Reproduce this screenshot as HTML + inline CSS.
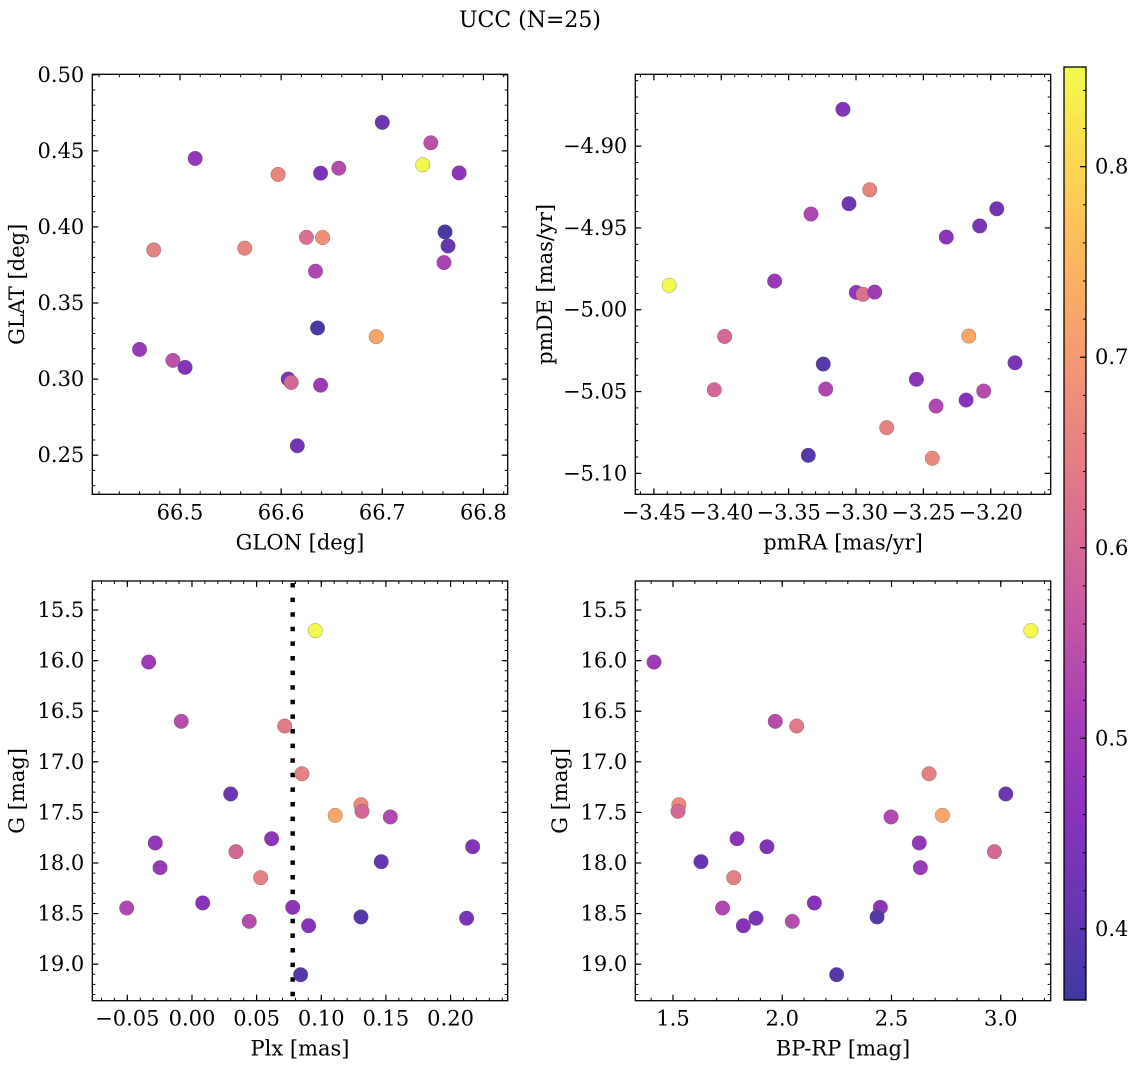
<!DOCTYPE html>
<html>
<head>
<meta charset="utf-8">
<style>
  html,body{margin:0;padding:0;background:#fff;}
  svg{display:block;}
  text{font-family:"DejaVu Serif","Liberation Serif",serif;fill:#000;}
</style>
</head>
<body>
<svg id="fig" width="1136" height="1067" viewBox="0 0 1136 1067" xmlns="http://www.w3.org/2000/svg">
  <rect x="0" y="0" width="1136" height="1067" fill="#fff"/>
  <text x="530" y="27" font-size="22" text-anchor="middle">UCC (N=25)</text>
</svg>
<script>
// ---- data ----
const glon = [66.700,66.748,66.740,66.776,66.515,66.597,66.639,66.657,66.762,66.765,66.761,66.625,66.641,66.474,66.564,66.634,66.636,66.694,66.460,66.493,66.505,66.607,66.610,66.639,66.616];
const glat = [0.4687,0.4553,0.4408,0.4355,0.4450,0.4345,0.4353,0.4386,0.3967,0.3875,0.3766,0.3932,0.3930,0.3849,0.3860,0.3709,0.3336,0.3279,0.3195,0.3123,0.3077,0.3000,0.2978,0.2960,0.2562];
const colGal = [0.42,0.55,0.85,0.47,0.48,0.66,0.44,0.54,0.38,0.41,0.52,0.62,0.68,0.65,0.66,0.53,0.38,0.72,0.49,0.55,0.45,0.44,0.60,0.50,0.43];

const pmra = [-3.3097,-3.2898,-3.3052,-3.3334,-3.1955,-3.2082,-3.2330,-3.4386,-3.3604,-3.2998,-3.2948,-3.2861,-3.3975,-3.2163,-3.3243,-3.1820,-3.2552,-3.4052,-3.3225,-3.2052,-3.2183,-3.2406,-3.2772,-3.3354,-3.2434];
const pmde = [-4.8775,-4.9267,-4.9352,-4.9415,-4.9383,-4.9488,-4.9556,-4.9851,-4.9825,-4.9894,-4.9906,-4.9892,-5.0163,-5.0161,-5.0332,-5.0324,-5.0425,-5.0489,-5.0485,-5.0497,-5.0552,-5.0589,-5.0721,-5.0890,-5.0908];
const colPm = [0.45,0.66,0.42,0.53,0.43,0.44,0.47,0.85,0.49,0.48,0.62,0.50,0.60,0.72,0.39,0.44,0.47,0.60,0.53,0.54,0.46,0.53,0.65,0.39,0.67];

const plx  = [0.0954,-0.0335,-0.0083,0.0717,0.0850,0.0299,0.1307,0.1315,0.1108,0.1534,0.0616,-0.0284,0.2171,0.0340,-0.0247,0.1464,0.0531,0.0083,-0.0505,0.0779,0.0443,0.1307,0.2124,0.0902,0.0840];
const gmag = [15.704,16.014,16.600,16.646,17.118,17.318,17.424,17.489,17.529,17.545,17.760,17.802,17.839,17.888,18.046,17.987,18.145,18.395,18.445,18.438,18.577,18.533,18.546,18.620,19.104];
const bprp = [3.138,1.413,1.968,2.066,2.672,3.023,1.527,1.523,2.733,2.498,1.793,2.627,1.930,2.971,2.632,1.628,1.778,2.147,1.727,2.449,2.046,2.434,1.880,1.822,2.249];
const colPhot = [0.85,0.50,0.54,0.64,0.65,0.42,0.67,0.60,0.72,0.53,0.47,0.48,0.45,0.60,0.49,0.41,0.65,0.46,0.53,0.47,0.54,0.39,0.44,0.46,0.39];

const plxLine = [0.0779];
const cbarTicks = [0.4,0.5,0.6,0.7,0.8];
const cbarRange = [0.3627,0.8523];

// ---- helpers ----
const NS = "http://www.w3.org/2000/svg";
const svg = document.getElementById('fig');
const FS = 21;
function mk(tag, attrs, parent){
  const e = document.createElementNS(NS, tag);
  for (const k in attrs) e.setAttribute(k, attrs[k]);
  (parent||svg).appendChild(e);
  return e;
}
const plasmaStops = ["#0d0887","#41049d","#6a00a8","#8f0da4","#b12a90","#cc4778","#e16462","#f2844b","#fca636","#fcce25","#f0f921"];
function hex2rgb(h){return [parseInt(h.substr(1,2),16),parseInt(h.substr(3,2),16),parseInt(h.substr(5,2),16)];}
function plasma(t){
  t=Math.max(0,Math.min(1,t));
  const s=t*10, i=Math.min(9,Math.floor(s)), f=s-i;
  const a=hex2rgb(plasmaStops[i]), b=hex2rgb(plasmaStops[i+1]);
  const alpha=0.8;
  const c=a.map((v,k)=>Math.round((v+(b[k]-v)*f)*alpha+255*(1-alpha)));
  return `rgb(${c[0]},${c[1]},${c[2]})`;
}
function cmap(v){return plasma((v-cbarRange[0])/(cbarRange[1]-cbarRange[0]));}
function fmt(v,d){const s=Math.abs(v).toFixed(d);return (v< -1e-9?"\u2212":"")+s;}

function panel(cfg){
  const g = mk('g',{});
  
  
  const {x0,y0,x1,y1} = cfg.box;
  const sx = v => x0 + (v-cfg.xd[0])/(cfg.xd[1]-cfg.xd[0])*(x1-x0);
  const sy = cfg.yinv ? (v => y0 + (v-cfg.yd[0])/(cfg.yd[1]-cfg.yd[0])*(y1-y0))
                      : (v => y1 - (v-cfg.yd[0])/(cfg.yd[1]-cfg.yd[0])*(y1-y0));
  const ylo=Math.min(...cfg.yd), yhi=Math.max(...cfg.yd);
  const eps=1e-9;
  for (let v=Math.ceil(cfg.xd[0]/cfg.xmin-eps)*cfg.xmin; v<=cfg.xd[1]+eps; v+=cfg.xmin){
    const X=sx(v);
    mk('line',{x1:X,y1:y1,x2:X,y2:y1-3,stroke:'#000','stroke-width':1},g);
    mk('line',{x1:X,y1:y0,x2:X,y2:y0+3,stroke:'#000','stroke-width':1},g);
  }
  for (let v=Math.ceil(ylo/cfg.ymin-eps)*cfg.ymin; v<=yhi+eps; v+=cfg.ymin){
    const Y=sy(v);
    mk('line',{x1:x0,y1:Y,x2:x0+3,y2:Y,stroke:'#000','stroke-width':1},g);
    mk('line',{x1:x1,y1:Y,x2:x1-3,y2:Y,stroke:'#000','stroke-width':1},g);
  }
  cfg.xt.forEach(v=>{
    const X=sx(v);
    mk('line',{x1:X,y1:y1,x2:X,y2:y1-6,stroke:'#000','stroke-width':1.2},g);
    mk('line',{x1:X,y1:y0,x2:X,y2:y0+6,stroke:'#000','stroke-width':1.2},g);
    const t=mk('text',{x:X,y:y1+25,'font-size':FS,'text-anchor':'middle'},g);
    t.textContent=fmt(v,cfg.xdec);
    
    
  });
  cfg.yt.forEach(v=>{
    const Y=sy(v);
    mk('line',{x1:x0,y1:Y,x2:x0+6,y2:Y,stroke:'#000','stroke-width':1.2},g);
    mk('line',{x1:x1,y1:Y,x2:x1-6,y2:Y,stroke:'#000','stroke-width':1.2},g);
    const t=mk('text',{x:x0-8,y:Y+7,'font-size':FS,'text-anchor':'end'},g);
    t.textContent=fmt(v,cfg.ydec);
    
    
  });
  if (cfg.vline){
    cfg.vline.forEach(v=>{
      const l=mk('line',{x1:sx(v),y1:y0+2,x2:sx(v),y2:y1,stroke:'#000','stroke-width':4.5,'stroke-dasharray':'4.5 10.1'},g);
      
      
    });
  }
  cfg.xs.forEach((xv,i)=>{
    const c=mk('circle',{cx:sx(xv),cy:sy(cfg.ys[i]),r:7.3,fill:cmap(cfg.cs[i]),stroke:'rgba(90,90,90,0.6)','stroke-width':0.5},g);
    
    
  });
  mk('rect',{x:x0,y:y0,width:x1-x0,height:y1-y0,fill:'none',stroke:'#000','stroke-width':1.3},g);
  const xl=mk('text',{x:(x0+x1)/2,y:y1+55,'font-size':FS,'text-anchor':'middle'},g);
  xl.textContent=cfg.xlabel;
  
  
  const cy=(y0+y1)/2;
  const yl=mk('text',{x:cfg.ylx,y:cy,'font-size':FS,'text-anchor':'middle',transform:`rotate(-90 ${cfg.ylx} ${cy})`},g);
  yl.textContent=cfg.ylabel;
  
  
}

panel({name:'glon-glat-panel',box:{x0:92.3,y0:74.3,x1:507.7,y1:494.3},xd:[66.4133,66.824],yd:[0.2243,0.5003],
  xt:[66.5,66.6,66.7,66.8],yt:[0.25,0.30,0.35,0.40,0.45,0.50],xmin:0.02,ymin:0.01,xdec:1,ydec:2,
  xs:glon,ys:glat,cs:colGal,xlabel:'GLON [deg]',ylabel:'GLAT [deg]',ylx:24});
panel({name:'pm-panel',box:{x0:635.3,y0:74.3,x1:1050.7,y1:494.3},xd:[-3.4638,-3.1555],yd:[-5.1128,-4.8561],
  xt:[-3.45,-3.40,-3.35,-3.30,-3.25,-3.20],yt:[-5.10,-5.05,-5.00,-4.95,-4.90],xmin:0.01,ymin:0.01,xdec:2,ydec:2,
  xs:pmra,ys:pmde,cs:colPm,xlabel:'pmRA [mas/yr]',ylabel:'pmDE [mas/yr]',ylx:552});
panel({name:'plx-g-panel',box:{x0:92.3,y0:581,x1:507.7,y1:1000.7},xd:[-0.0771,0.2442],yd:[15.213,19.361],yinv:true,
  xt:[-0.05,0,0.05,0.10,0.15,0.20],yt:[15.5,16,16.5,17,17.5,18,18.5,19],xmin:0.01,ymin:0.1,xdec:2,ydec:1,
  xs:plx,ys:gmag,cs:colPhot,vline:plxLine,xlabel:'Plx [mas]',ylabel:'G [mag]',ylx:24});
panel({name:'cmd-panel',box:{x0:635.3,y0:581,x1:1050.7,y1:1000.7},xd:[1.3275,3.2286],yd:[15.213,19.361],yinv:true,
  xt:[1.5,2.0,2.5,3.0],yt:[15.5,16,16.5,17,17.5,18,18.5,19],xmin:0.1,ymin:0.1,xdec:1,ydec:1,
  xs:bprp,ys:gmag,cs:colPhot,xlabel:'BP-RP [mag]',ylabel:'G [mag]',ylx:567});

// ---- colorbar ----
(function(){
  const g=mk('g',{});
  
  
  const x0=1064,x1=1086,y0=67,y1=1000;
  const N=200;
  for(let i=0;i<N;i++){
    const t=(i+0.5)/N;
    mk('rect',{x:x0,y:y1-(i+1)*(y1-y0)/N,width:x1-x0,height:(y1-y0)/N+0.6,fill:plasma(t),stroke:'none'},g);
  }
  const sy=v=>y1-(v-cbarRange[0])/(cbarRange[1]-cbarRange[0])*(y1-y0);
  for(let v=0.38; v<=0.85+1e-9; v+=0.02){
    const Y=sy(v);
    mk('line',{x1:x1,y1:Y,x2:x1-3,y2:Y,stroke:'#000','stroke-width':1},g);
  }
  cbarTicks.forEach(v=>{
    const Y=sy(v);
    mk('line',{x1:x1,y1:Y,x2:x1-6,y2:Y,stroke:'#000','stroke-width':1.2},g);
    const t=mk('text',{x:x1+9,y:Y+7,'font-size':FS},g);
    t.textContent=v.toFixed(1);
    
    
  });
  mk('rect',{x:x0,y:y0,width:x1-x0,height:y1-y0,fill:'none',stroke:'#000','stroke-width':1.3},g);
})();
</script>
</body>
</html>
